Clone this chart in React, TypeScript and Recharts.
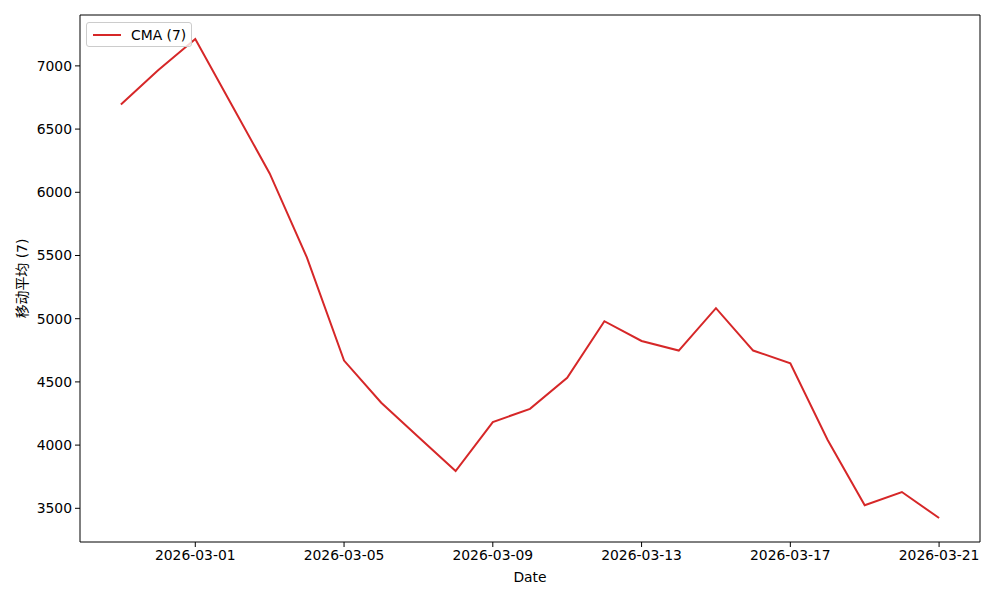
import { LineChart, Line, XAxis, YAxis, Legend, ReferenceArea } from "recharts";

// dates of the 7-day moving average
const dates = [
  "2026-02-27", "2026-02-28", "2026-03-01", "2026-03-02", "2026-03-03",
  "2026-03-04", "2026-03-05", "2026-03-06", "2026-03-07", "2026-03-08",
  "2026-03-09", "2026-03-10", "2026-03-11", "2026-03-12", "2026-03-13",
  "2026-03-14", "2026-03-15", "2026-03-16", "2026-03-17", "2026-03-18",
  "2026-03-19", "2026-03-20", "2026-03-21",
];

const cma = [
  6695, 6965, 7213, 6680, 6149, 5485, 4669, 4335, 4065, 3795, 4182, 4287,
  4532, 4980, 4824, 4748, 5083, 4748, 4648, 4043, 3524, 3629, 3423,
];

const xTickLabels = [
  "2026-03-01", "2026-03-05", "2026-03-09", "2026-03-13", "2026-03-17", "2026-03-21",
];
const yTicks = [3500, 4000, 4500, 5000, 5500, 6000, 6500, 7000];

const seriesName = "CMA (7)";
const yLabel = "移动平均 (7)";
const xLabel = "Date";

const FONT = "'DejaVu Sans', 'Noto Sans CJK SC', sans-serif";
const RED = "#d62728";

const data = dates.map((d, i) => ({ i, date: d, cma: cma[i] }));

// matplotlib-like 5% margins
const xPad = (dates.length - 1) * 0.05;
const xDomain = [-xPad, dates.length - 1 + xPad];
const yMin = Math.min(...cma);
const yMax = Math.max(...cma);
const yPad = (yMax - yMin) * 0.05;
const yDomain = [yMin - yPad, yMax + yPad];

const tickStyle = { fill: "#000", fontSize: 13.9, fontFamily: FONT };

export default function App() {
  return (
    <div style={{ position: "absolute", left: 0, top: 0, background: "#fff" }}>
      <LineChart
        width={1000}
        height={600}
        data={data}
        margin={{ top: 15, right: 20, bottom: 0, left: 0 }}
      >
        <XAxis
          dataKey="i"
          type="number"
          domain={xDomain}
          allowDataOverflow
          ticks={xTickLabels.map((d) => dates.indexOf(d))}
          tickFormatter={(v: number) => dates[v]}
          height={58}
          tick={tickStyle}
          tickSize={5}
          tickMargin={3}
          tickLine={{ stroke: "#000", strokeWidth: 1 }}
          axisLine={false}
          label={(props: any) => {
            const vb = props.viewBox;
            return (
              <text
                x={vb.x + vb.width / 2}
                y={vb.y + 40}
                textAnchor="middle"
                fontFamily={FONT}
                fontSize={13.9}
                fill="#000"
              >
                {xLabel}
              </text>
            );
          }}
        />
        <YAxis
          type="number"
          domain={yDomain}
          allowDataOverflow
          ticks={yTicks}
          width={80}
          tick={tickStyle}
          tickSize={5}
          tickMargin={3}
          tickLine={{ stroke: "#000", strokeWidth: 1 }}
          axisLine={false}
          label={(props: any) => {
            const vb = props.viewBox;
            const cx = vb.x + 22;
            const cy = vb.y + vb.height / 2;
            return (
              <text
                x={cx}
                y={cy}
                transform={`rotate(-90 ${cx} ${cy})`}
                textAnchor="middle"
                dominantBaseline="central"
                fontFamily={FONT}
                fontSize={13.9}
                fill="#000"
              >
                {yLabel}
              </text>
            );
          }}
        />
        {/* axes frame, like matplotlib spines */}
        <ReferenceArea
          x1={xDomain[0]}
          x2={xDomain[1]}
          y1={yDomain[0]}
          y2={yDomain[1]}
          fill="none"
          stroke="#000"
          strokeWidth={1}
          ifOverflow="visible"
        />
        <Legend
          layout="horizontal"
          verticalAlign="middle"
          align="center"
          wrapperStyle={{ position: "absolute", left: 86, top: 22, width: "auto", height: "auto" }}
          content={(props: any) => {
            const item = (props.payload || [])[0] || { value: seriesName, color: RED };
            return (
              <div
                style={{
                  boxSizing: "border-box",
                  width: 106,
                  height: 25,
                  border: "1px solid #cccccc",
                  borderRadius: 3,
                  background: "rgba(255,255,255,0.8)",
                  display: "flex",
                  alignItems: "center",
                  fontFamily: FONT,
                  fontSize: 13.9,
                  color: "#000",
                }}
              >
                <svg width={44} height={20} style={{ display: "block" }}>
                  <line x1={6} y1={10} x2={34} y2={10} stroke={item.color} strokeWidth={2} />
                </svg>
                <span>{item.value}</span>
              </div>
            );
          }}
        />
        <Line
          type="linear"
          dataKey="cma"
          name={seriesName}
          stroke={RED}
          strokeWidth={2}
          dot={false}
          activeDot={false}
          isAnimationActive={false}
        />
      </LineChart>
    </div>
  );
}
